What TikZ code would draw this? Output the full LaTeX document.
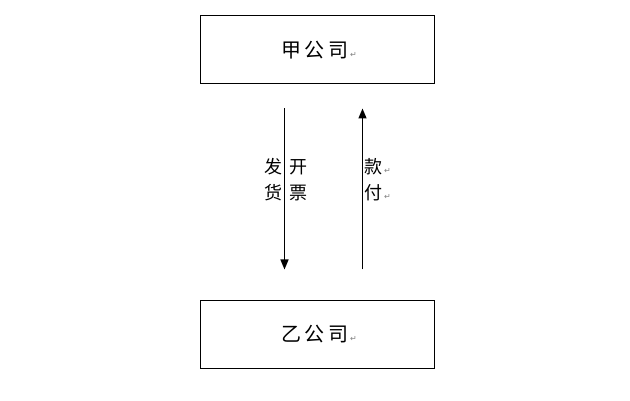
\documentclass[tikz,border=0pt]{standalone}
\usepackage{fontspec}
\setmainfont{Noto Sans CJK SC}
\newfontfamily\symfont{DejaVu Sans}
\usetikzlibrary{arrows.meta}
\newcommand{\retmark}{{\symfont\fontsize{8}{8}\selectfont\textcolor{gray}{↵}}}
\tikzset{
  company/.style={draw=black, line width=1pt, minimum width=234pt, minimum height=68pt, inner sep=0pt,
    font=\fontsize{20}{20}\selectfont},
  flow/.style={line width=1.4pt, -{Triangle[length=10pt,width=8pt]}},
  lbl/.style={font=\fontsize{18}{26}\selectfont, align=left, inner sep=0pt}
}
\begin{document}
\begin{tikzpicture}[x=1pt,y=-1pt]
\useasboundingbox (0,0) rectangle (630,401);
\node[company] (top) at (317,50) {\hspace*{4pt}甲\kern3.5pt公\kern3.5pt司\kern2pt\retmark};
\node[company] (bot) at (317,334) {\hspace*{4pt}乙\kern3.5pt公\kern3.5pt司\kern2pt\retmark};
\draw[flow, shorten <=24pt, shorten >=30pt] ([xshift=-32.5pt]top.south) -- ([xshift=-32.5pt]bot.north);
\draw[flow, shorten <=30pt, shorten >=24pt] ([xshift=45.5pt]bot.north) -- ([xshift=45.5pt]top.south);
\node[lbl] (l1) at (273,180) {发\\货};
\node[lbl] (l2) at (298,180) {开\\票};
\node[lbl, anchor=west] (l3) at (364,180) {款\kern2pt\retmark\\付\kern2pt\retmark};
\end{tikzpicture}
\end{document}
